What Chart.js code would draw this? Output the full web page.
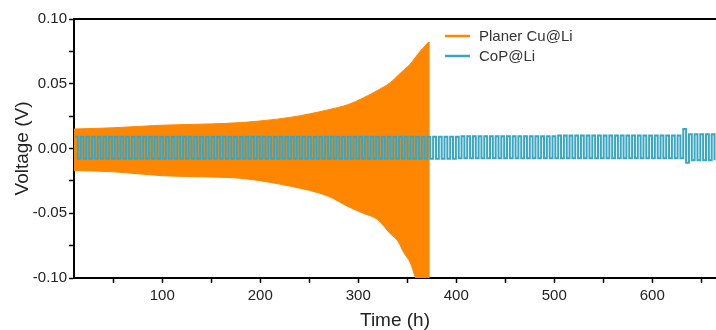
<!DOCTYPE html>
<html>
<head>
<meta charset="utf-8">
<script src="https://cdn.jsdelivr.net/npm/chart.js@4.4.0/dist/chart.umd.min.js"></script>
<style>
  html, body { margin: 0; padding: 0; background: #fff; }
  #wrap { width: 716px; height: 330px; }
</style>
</head>
<body>
<div id="wrap"><canvas id="voltageChart" width="716" height="330"></canvas></div>
<script>
// Planer Cu@Li: upper / lower envelope of the dense voltage trace (V)
const cuTime = [10, 50, 100, 150, 180, 230, 270, 290, 305, 320, 333, 340, 347, 353, 358, 363, 368, 372, 373];
const cuHigh = [0.015, 0.016, 0.018, 0.019, 0.020, 0.024, 0.030, 0.034, 0.039, 0.045, 0.051, 0.056, 0.061, 0.065, 0.070, 0.075, 0.079, 0.082, 0.082];
const cuLow = [-0.017, -0.018, -0.021, -0.022, -0.023, -0.029, -0.037, -0.045, -0.050, -0.055, -0.066, -0.071, -0.081, -0.088, -0.099, -0.110, -0.115, -0.120, -0.120];

// CoP@Li: square-wave cycling, plateau levels (V) read at these times
const copCycleHours = 5.8;
const copStart = 11;
const copEnd = 666;
const copTime = [11, 100, 200, 300, 400, 500, 600, 630, 636];
const copHigh = [0.009, 0.009, 0.009, 0.009, 0.0095, 0.010, 0.010, 0.015, 0.011];
const copLow = [-0.008, -0.008, -0.008, -0.008, -0.0075, -0.0075, -0.0075, -0.011, -0.009];

const xLabels = [100, 200, 300, 400, 500, 600];
const yLabels = [-0.10, -0.05, 0.00, 0.05, 0.10];

const orange = "#ff8600";
const blue = "#3ba6c2";

const cuUpper = cuTime.map((t, i) => ({ x: t, y: cuHigh[i] }));
const cuLower = cuTime.map((t, i) => ({ x: t, y: cuLow[i] }));

// one point per half cycle, drawn as steps
const copPoints = [];
let level = 0;
for (let k = 0; copStart + k * copCycleHours / 2 <= copEnd; k++) {
  const t = copStart + k * copCycleHours / 2;
  while (level + 1 < copTime.length && copTime[level + 1] <= t) level++;
  copPoints.push({ x: t, y: k % 2 === 0 ? copHigh[level] : copLow[level] });
}

const isLabel = (list, v) => list.some((l) => Math.abs(l - v) < 1e-6);

// top frame line + legend inside the plot
const frameAndLegend = {
  id: "frameAndLegend",
  afterDraw(chart) {
    const { ctx, chartArea } = chart;
    ctx.save();
    ctx.strokeStyle = "#000";
    ctx.lineWidth = 2;
    ctx.beginPath();
    ctx.moveTo(chartArea.left - 1, chartArea.top);
    ctx.lineTo(chartArea.right, chartArea.top);
    ctx.stroke();

    const items = [
      { text: "Planer Cu@Li", color: orange, y: 36 },
      { text: "CoP@Li", color: blue, y: 56 }
    ];
    ctx.font = "15px 'Liberation Sans', Arial, sans-serif";
    ctx.textBaseline = "middle";
    ctx.fillStyle = "#333";
    items.forEach((it) => {
      ctx.strokeStyle = it.color;
      ctx.lineWidth = 2.5;
      ctx.beginPath();
      ctx.moveTo(445, it.y);
      ctx.lineTo(470, it.y);
      ctx.stroke();
      ctx.fillText(it.text, 479, it.y + 1);
    });
    ctx.restore();
  }
};

new Chart(document.getElementById("voltageChart"), {
  type: "line",
  data: {
    datasets: [
      {
        label: "CoP@Li",
        data: copPoints,
        borderColor: blue,
        borderWidth: 2,
        stepped: true,
        pointRadius: 0,
        fill: false,
        order: 0
      },
      {
        label: "Planer Cu@Li",
        data: cuUpper,
        borderColor: orange,
        backgroundColor: orange,
        borderWidth: 1,
        pointRadius: 0,
        cubicInterpolationMode: "monotone",
        fill: "+1",
        order: 1
      },
      {
        label: "Planer Cu@Li low",
        data: cuLower,
        borderColor: orange,
        borderWidth: 1,
        pointRadius: 0,
        cubicInterpolationMode: "monotone",
        fill: false,
        order: 2
      }
    ]
  },
  options: {
    responsive: false,
    animation: false,
    layout: { padding: { top: 19, right: 0, left: 0, bottom: 0 } },
    plugins: {
      legend: { display: false },
      tooltip: { enabled: false }
    },
    scales: {
      x: {
        type: "linear",
        min: 10,
        max: 665,
        afterFit: (scale) => { scale.height = 52; },
        border: { color: "#000", width: 2 },
        grid: {
          drawOnChartArea: false,
          tickLength: 5,
          tickWidth: 1.5,
          tickColor: (ctx) => (ctx.tick && ctx.tick.value % 50 === 0 ? "#000" : "rgba(0,0,0,0)")
        },
        ticks: {
          stepSize: 50,
          includeBounds: false,
          autoSkip: false,
          maxRotation: 0,
          padding: 4,
          color: "#222",
          font: { family: "'Liberation Sans', Arial, sans-serif", size: 15 },
          callback: (v) => (isLabel(xLabels, v) ? String(v) : "")
        },
        title: {
          display: true,
          text: "Time (h)",
          color: "#222",
          padding: { top: 0, bottom: 0 },
          font: { family: "'Liberation Sans', Arial, sans-serif", size: 19, lineHeight: 1 }
        }
      },
      y: {
        min: -0.1,
        max: 0.1,
        afterFit: (scale) => { scale.width = 74; },
        border: { color: "#000", width: 2 },
        grid: {
          drawOnChartArea: false,
          tickLength: 5,
          tickWidth: 1.5,
          tickColor: "#000"
        },
        ticks: {
          stepSize: 0.025,
          padding: 2,
          color: "#222",
          font: { family: "'Liberation Sans', Arial, sans-serif", size: 15 },
          callback: (v) => (isLabel(yLabels, v) ? v.toFixed(2) : "")
        },
        title: {
          display: true,
          text: "Voltage (V)",
          color: "#222",
          padding: { top: 11, bottom: 0 },
          font: { family: "'Liberation Sans', Arial, sans-serif", size: 19, lineHeight: 1.2 }
        }
      }
    }
  },
  plugins: [frameAndLegend]
});
</script>
</body>
</html>
